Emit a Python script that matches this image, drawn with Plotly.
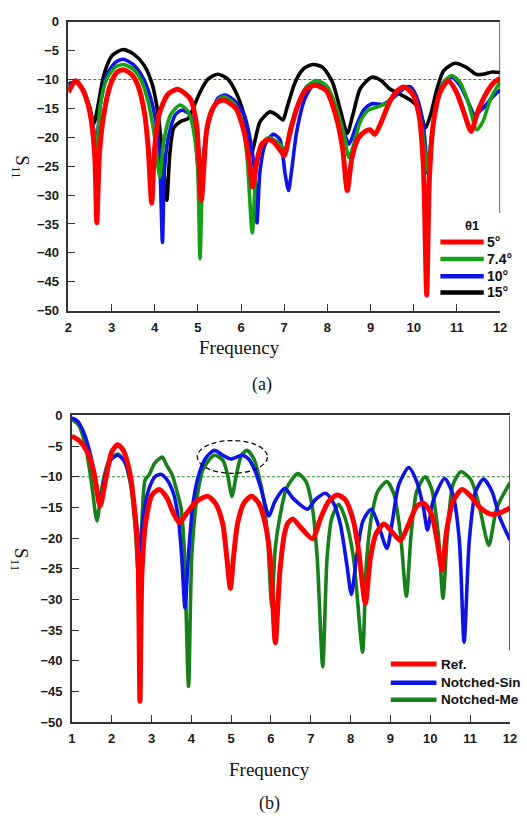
import plotly.graph_objects as go

W, H = 527, 820

# ---------------- Panel (a) data : S11 vs Frequency for several theta1 ----------------
a_f_5 = [2.0,2.17,2.36,2.51,2.61,2.66,2.72,2.82,2.97,3.12,3.27,3.46,3.61,3.76,3.85,3.93,4.0,4.1,4.29,4.44,
         4.55,4.82,4.97,5.08,5.2,5.31,5.46,5.61,5.88,6.07,6.18,6.27,6.37,6.48,6.63,6.78,6.94,7.0,7.14,7.29,
         7.48,7.7,7.97,8.19,8.35,8.46,8.57,8.72,8.87,8.99,9.1,9.25,9.44,9.63,9.78,9.97,10.12,10.22,10.3,10.36,
         10.45,10.61,10.8,10.99,11.18,11.33,11.48,11.67,11.86,12.0]
a_s_5 = [-12.2,-10.2,-12.2,-16.1,-22.9,-34.8,-22.9,-16.1,-11.0,-8.8,-8.3,-9.1,-11.0,-15.6,-21.8,-31.4,-21.8,-16.1,-12.7,-11.9,
         -11.7,-13.3,-17.8,-30.9,-19.0,-15.6,-13.9,-13.6,-15.0,-19.0,-23.5,-28.6,-24.0,-21.2,-20.4,-21.0,-22.6,-23.2,-19.0,-15.0,
         -11.9,-11.0,-11.9,-16.1,-21.8,-29.2,-23.5,-20.1,-19.0,-18.7,-19.5,-17.3,-13.9,-11.9,-11.3,-12.5,-16.1,-24.6,-47.3,-27.5,
         -17.8,-12.2,-10.2,-12.2,-16.1,-19.0,-15.6,-12.5,-10.5,-9.8]

a_f_74 = [2.0,2.17,2.36,2.51,2.6,2.66,2.74,2.89,3.08,3.27,3.5,3.69,3.85,3.99,4.12,4.21,4.37,4.59,4.78,4.89,
          4.99,5.05,5.11,5.2,5.35,5.5,5.61,5.84,6.03,6.14,6.26,6.35,6.44,6.63,6.82,6.97,7.03,7.14,7.33,7.51,
          7.74,7.97,8.19,8.38,8.5,8.61,8.76,8.95,9.18,9.4,9.59,9.78,9.97,10.12,10.23,10.31,10.39,10.5,10.69,10.88,
          11.07,11.26,11.46,11.6,11.78,12.0]
a_s_74 = [-11.8,-10.3,-11.9,-15.6,-19.5,-22.0,-14.4,-9.9,-7.9,-7.4,-8.2,-10.2,-13.9,-19.5,-26.9,-20.7,-16.1,-14.4,-15.6,-18.4,
          -24.6,-41.0,-26.3,-19.5,-15.0,-13.3,-13.0,-14.2,-17.3,-23.5,-36.5,-25.2,-21.8,-20.1,-20.7,-21.8,-22.5,-18.4,-14.4,-11.3,
          -10.2,-11.0,-14.4,-19.5,-23.5,-21.2,-17.3,-15.3,-14.7,-13.9,-12.2,-11.3,-12.2,-15.6,-20.7,-25.8,-21.2,-15.0,-10.5,-9.3,
          -10.5,-13.9,-18.7,-17.3,-13.3,-10.4]

a_f_10 = [2.0,2.17,2.36,2.51,2.65,2.74,2.89,3.08,3.27,3.5,3.72,3.91,4.06,4.12,4.18,4.23,4.33,4.48,4.63,4.82,
          4.93,5.0,5.06,5.12,5.2,5.31,5.46,5.63,5.84,6.07,6.22,6.32,6.37,6.44,6.56,6.75,6.9,7.02,7.1,7.17,
          7.29,7.48,7.7,7.97,8.19,8.38,8.5,8.65,8.84,9.03,9.29,9.55,9.82,9.93,10.08,10.22,10.33,10.4,10.54,10.69,
          10.88,11.07,11.26,11.41,11.6,11.83,12.0]
a_s_10 = [-11.2,-10.3,-12.2,-15.6,-20.7,-14.4,-9.3,-7.1,-6.5,-7.4,-9.6,-13.3,-19.0,-24.6,-38.2,-25.2,-19.5,-16.1,-15.3,-16.1,
          -19.5,-25.0,-30.5,-24.0,-19.0,-16.1,-13.3,-12.7,-13.6,-16.1,-20.7,-26.3,-34.8,-25.8,-21.2,-19.5,-20.4,-26.3,-29.2,-25.8,
          -19.0,-13.3,-10.8,-11.6,-15.0,-19.0,-21.2,-18.4,-15.3,-14.2,-14.3,-13.0,-11.3,-11.3,-13.3,-17.8,-26.3,-20.7,-13.9,-10.5,
          -9.6,-11.0,-13.9,-16.1,-15.0,-13.0,-11.8]

a_f_15 = [2.0,2.06,2.17,2.32,2.48,2.59,2.69,2.82,3.01,3.27,3.53,3.76,3.95,4.08,4.18,4.28,4.35,4.44,4.59,4.78,
          4.89,5.05,5.24,5.46,5.69,5.88,6.07,6.18,6.24,6.32,6.44,6.67,6.82,6.97,7.06,7.25,7.44,7.66,7.89,8.12,
          8.31,8.46,8.59,8.76,9.03,9.25,9.44,9.67,9.93,10.12,10.27,10.39,10.54,10.69,10.95,11.22,11.44,11.6,11.82,12.0]
a_s_15 = [-10.8,-10.6,-10.5,-11.6,-14.4,-17.6,-14.4,-9.3,-5.9,-4.8,-5.7,-7.6,-11.0,-16.1,-22.9,-30.9,-22.9,-18.4,-17.3,-16.7,
          -15.0,-12.2,-9.9,-9.1,-9.9,-12.2,-16.1,-20.1,-22.9,-20.7,-17.3,-15.6,-16.1,-17.0,-15.0,-10.5,-8.2,-7.4,-7.9,-10.5,
          -15.6,-19.3,-16.1,-11.6,-9.6,-10.2,-11.6,-12.5,-13.6,-15.0,-18.4,-16.1,-11.6,-8.5,-7.2,-7.9,-9.1,-9.1,-8.7,-8.8]

a_names = ["5°", "7.4°", "10°", "15°"]
a_colors = ["#ff0000", "#16a016", "#0f14e6", "#000000"]

# ---------------- Panel (b) data ----------------
b_f_ref = [1.0,1.18,1.39,1.55,1.71,1.84,2.0,2.15,2.29,2.45,2.57,2.66,2.71,2.76,2.86,3.02,3.2,3.39,3.56,3.7,
           3.89,4.13,4.42,4.62,4.79,4.89,4.98,5.06,5.16,5.32,5.51,5.69,5.85,5.98,6.11,6.22,6.34,6.43,6.55,6.75,
           7.04,7.25,7.45,7.66,7.86,8.07,8.2,8.37,8.5,8.64,8.84,9.05,9.25,9.46,9.66,9.83,10.03,10.17,10.3,10.4,
           10.57,10.8,11.02,11.26,11.51,11.75,12.0]
b_s_ref = [-3.4,-4.1,-6.0,-9.2,-14.8,-10.8,-6.0,-4.8,-5.7,-9.2,-15.1,-23.1,-46.6,-25.7,-17.2,-12.9,-12.1,-13.5,-16.1,-17.5,
           -15.9,-14.0,-13.2,-14.5,-17.7,-23.1,-28.2,-23.1,-17.7,-14.3,-13.2,-14.3,-17.5,-23.1,-37.1,-25.7,-19.3,-17.5,-16.9,-18.3,
           -20.1,-16.7,-14.0,-13.0,-13.7,-17.2,-22.0,-30.6,-23.1,-19.3,-17.7,-19.1,-20.4,-17.7,-14.8,-14.3,-16.1,-20.4,-25.2,-19.3,
           -14.0,-12.1,-13.2,-15.1,-16.1,-15.9,-15.1]

b_f_single = [1.0,1.14,1.3,1.47,1.59,1.71,1.84,2.0,2.16,2.33,2.49,2.61,2.7,2.8,2.94,3.09,3.23,3.39,3.56,3.68,
              3.76,3.84,3.93,4.05,4.21,4.38,4.58,4.79,4.99,5.28,5.44,5.61,5.77,5.95,6.1,6.35,6.55,6.92,7.12,7.37,
              7.57,7.74,7.9,8.02,8.15,8.31,8.52,8.72,8.91,9.05,9.21,9.46,9.66,9.83,9.93,10.07,10.36,10.57,10.73,10.85,
              10.98,11.14,11.34,11.55,11.75,12.0]
b_s_single = [-0.4,-0.9,-2.8,-6.5,-10.3,-14.3,-9.7,-7.1,-6.5,-7.6,-11.3,-16.7,-23.0,-16.1,-11.9,-10.0,-9.6,-10.5,-12.9,-17.2,
              -23.1,-31.4,-22.5,-14.0,-9.2,-6.8,-5.7,-6.5,-7.1,-6.5,-7.1,-9.2,-12.4,-16.4,-14.0,-11.9,-13.5,-15.3,-13.7,-12.7,
              -14.3,-17.7,-24.1,-29.2,-23.1,-17.2,-15.3,-18.3,-21.7,-17.2,-11.3,-8.5,-10.8,-15.1,-18.7,-14.0,-10.3,-12.9,-20.4,-37.0,
              -20.4,-12.4,-10.4,-12.4,-16.7,-20.3]

b_f_multi = [1.0,1.18,1.34,1.49,1.63,1.75,1.92,2.15,2.33,2.49,2.6,2.66,2.75,2.84,2.94,3.07,3.19,3.27,3.38,3.52,
             3.64,3.74,3.82,3.93,4.01,4.13,4.3,4.58,4.79,4.91,5.02,5.13,5.26,5.4,5.57,5.69,5.81,5.92,6.02,6.11,
             6.22,6.39,6.67,6.88,7.04,7.16,7.3,7.41,7.53,7.7,7.86,8.07,8.3,8.39,8.52,8.68,8.91,9.09,9.25,9.4,
             9.52,9.66,9.87,10.03,10.2,10.32,10.43,10.57,10.77,11.02,11.22,11.47,11.67,12.0]
b_s_multi = [-0.6,-1.7,-4.9,-10.8,-17.2,-11.9,-7.6,-6.3,-7.6,-11.9,-19.0,-25.0,-18.3,-10.5,-9.7,-7.9,-7.1,-6.8,-8.1,-9.7,
             -12.4,-15.1,-21.5,-44.2,-23.1,-14.0,-8.7,-6.5,-7.3,-9.7,-13.2,-9.7,-6.5,-5.7,-7.1,-9.7,-13.5,-20.4,-31.1,-21.5,
             -16.7,-11.9,-9.5,-10.8,-15.1,-23.1,-41.0,-23.1,-16.7,-14.5,-16.7,-23.1,-38.6,-24.7,-16.7,-12.4,-10.8,-12.9,-19.3,-29.5,
             -19.3,-12.4,-10.0,-11.9,-19.3,-29.8,-19.3,-11.3,-9.2,-10.5,-14.5,-21.2,-15.1,-11.0]

# legend labels of panel (b), as far as they are visible in the figure (cut at its right edge)
b_names = ["Ref.", "Notched-Sin", "Notched-Me"]
b_colors = ["#ff0000", "#0f14e6", "#17801a"]

a_xticks = list(range(2, 13))
b_xticks = list(range(1, 13))
yticks = list(range(-50, 1, 5))
threshold = -10
notch_box = dict(f0=4.15, f1=5.91, s0=-4.1, s1=-9.45)


def px(x):
    return x / W


def py(y):
    return 1 - y / H


fig = go.Figure()

# panel (a) traces (drawn black, blue, green, red)
a_series = [(a_f_15, a_s_15, 3), (a_f_10, a_s_10, 2), (a_f_74, a_s_74, 1), (a_f_5, a_s_5, 0)]
for fx, sy, i in a_series:
    fig.add_trace(go.Scatter(x=fx, y=sy, mode="lines", name=a_names[i],
                             line=dict(color=a_colors[i], width=5 if i == 0 else 3.6,
                                       shape="spline", smoothing=0.7),
                             xaxis="x", yaxis="y", showlegend=False))

b_series = [(b_f_multi, b_s_multi, 2), (b_f_single, b_s_single, 1), (b_f_ref, b_s_ref, 0)]
for fx, sy, i in b_series:
    fig.add_trace(go.Scatter(x=fx, y=sy, mode="lines", name=b_names[i],
                             line=dict(color=b_colors[i], width=5 if i == 0 else 3.6,
                                       shape="spline", smoothing=0.7),
                             xaxis="x2", yaxis="y2", showlegend=False))

tickfont = dict(family="Liberation Sans", size=13, color="#1a1a1a", weight="bold")
axis_common = dict(showgrid=False, zeroline=False, showline=True, linecolor="#333", linewidth=1.5,
                   ticks="inside", ticklen=7, tickwidth=1.3, tickcolor="#333", tickfont=tickfont)

fig.update_layout(
    width=W, height=H,
    margin=dict(l=0, r=0, t=0, b=0),
    paper_bgcolor="white", plot_bgcolor="white",
    showlegend=False,
    xaxis=dict(domain=[px(65.7), px(506.7)], range=[2, 12], tickvals=a_xticks, anchor="y",
               mirror=True, ticklabelstandoff=4, **axis_common),
    yaxis=dict(domain=[py(309.3), py(15)], range=[-50, 0], tickvals=yticks, anchor="x",
               ticklabelstandoff=5, **axis_common),
    xaxis2=dict(domain=[px(69.3), px(516.7)], range=[1, 12], tickvals=b_xticks, anchor="y2",
                mirror=True, ticklabelstandoff=4, **axis_common),
    yaxis2=dict(domain=[py(728.3), py(416)], range=[-50, 0], tickvals=yticks, anchor="x2",
                ticklabelstandoff=5, **axis_common),
)

shapes = []
# -10 dB reference lines
shapes.append(dict(type="line", xref="x", yref="y", x0=2, x1=12, y0=threshold, y1=threshold,
                   line=dict(color="#2e8b2e", width=1, dash="3px,2px"), layer="below"))
shapes.append(dict(type="line", xref="x2", yref="y2", x0=1, x1=12, y0=threshold, y1=threshold,
                   line=dict(color="#2e8b2e", width=1, dash="3px,2px"), layer="below"))
# partial right frame lines
shapes.append(dict(type="line", xref="x", yref="y", x0=12, x1=12, y0=0, y1=-33.1,
                   line=dict(color="#333", width=1.5)))
shapes.append(dict(type="line", xref="x2", yref="y2", x0=12, x1=12, y0=0, y1=-38.3,
                   line=dict(color="#333", width=1.5)))
# dashed ellipse in (b)
shapes.append(dict(type="circle", xref="x2", yref="y2", x0=notch_box["f0"], x1=notch_box["f1"],
                   y0=notch_box["s0"], y1=notch_box["s1"], line=dict(color="#111", width=1.3, dash="5px,3px")))

annotations = []
# legend (a)
a_leg_rows = [239.3, 256.7, 274.3, 290.7]
for i, yy in enumerate(a_leg_rows):
    shapes.append(dict(type="line", xref="paper", yref="paper", x0=px(445.7), x1=px(490), y0=py(yy), y1=py(yy),
                       line=dict(color=a_colors[i], width=5 if i == 0 else 4.5)))
    annotations.append(dict(x=px(491.5), y=py(yy), xref="paper", yref="paper", text=a_names[i],
                            showarrow=False, xanchor="left", yanchor="middle",
                            font=dict(family="Liberation Sans", size=14, color="#111", weight="bold")))
annotations.append(dict(x=px(477.5), y=py(222.5), xref="paper", yref="paper", text="θ1", showarrow=False,
                        xanchor="center", yanchor="middle",
                        font=dict(family="Liberation Sans", size=13, color="#111", weight="bold")))
# legend (b)
b_leg_rows = [669.3, 688.3, 705.7]
for i, yy in enumerate(b_leg_rows):
    shapes.append(dict(type="line", xref="paper", yref="paper", x0=px(395), x1=px(441.7), y0=py(yy), y1=py(yy),
                       line=dict(color=b_colors[i], width=5 if i == 0 else 4.5)))
    annotations.append(dict(x=px(444), y=py(yy), xref="paper", yref="paper", text=b_names[i],
                            showarrow=False, xanchor="left", yanchor="middle",
                            font=dict(family="Liberation Sans", size=13.5, color="#111", weight="bold")))

serif = dict(family="Liberation Serif", size=19, color="#111")
# axis titles and captions
annotations += [
    dict(x=px(241), y=py(347), xref="paper", yref="paper", text="Frequency", showarrow=False,
         xanchor="center", yanchor="middle", font=serif),
    dict(x=px(271), y=py(777), xref="paper", yref="paper", text="Frequency", showarrow=False,
         xanchor="center", yanchor="middle", font=serif),
    dict(x=px(17), y=py(163), xref="paper", yref="paper", text="S<sub>11</sub>", showarrow=False,
         textangle=90, xanchor="center", yanchor="middle", font=serif),
    dict(x=px(17), y=py(563), xref="paper", yref="paper", text="S<sub>11</sub>", showarrow=False,
         textangle=90, xanchor="center", yanchor="middle", font=serif),
    dict(x=px(263), y=py(385), xref="paper", yref="paper", text="(a)", showarrow=False,
         xanchor="center", yanchor="middle", font=dict(family="Liberation Serif", size=18, color="#111")),
    dict(x=px(271), y=py(811), xref="paper", yref="paper", text="(b)", showarrow=False,
         xanchor="center", yanchor="middle", font=dict(family="Liberation Serif", size=18, color="#111")),
]

fig.update_layout(shapes=shapes, annotations=annotations)

fig.write_html("out.html", config={"displayModeBar": False},
               post_script="document.body.style.margin='0';document.body.style.overflow='hidden';")
